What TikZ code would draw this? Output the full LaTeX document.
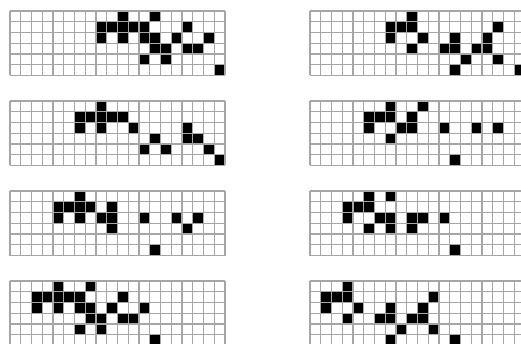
\documentclass[tikz,border=0pt]{standalone}
\definecolor{gridgray}{HTML}{A6A6A6}
\tikzset{
  cellfill/.style={fill=black},
  gridline/.style={draw=gridgray,line width=1.4pt},
}
\newcommand\cagrid[3]{%
  \begin{scope}[shift={(#1,#2)}]
    \foreach \c/\r in {#3} \fill[cellfill] ({\c*10.75},{-\r*10.75}) rectangle ++(10.75,-10.75);
    \foreach \i in {0,...,20} \draw[gridline] ({\i*10.75},0) -- ({\i*10.75},-64.5);
    \foreach \j in {0,...,6} \draw[gridline] (0,{-\j*10.75}) -- (215,{-\j*10.75});
  \end{scope}}
\begin{document}
\begin{tikzpicture}[x=1pt,y=1pt]
\useasboundingbox (0,0) rectangle (521,-344);
\clip (0,0) rectangle (521,-344);
\fill[white] (0,0) rectangle (521,-344);
% row 1
\cagrid{10}{-11}{10/0,13/0,8/1,9/1,10/1,11/1,12/1,16/1,8/2,10/2,12/2,13/2,15/2,18/2,13/3,14/3,16/3,17/3,12/4,14/4,19/5}
\cagrid{310}{-11}{9/0,7/1,8/1,9/1,17/1,7/2,10/2,13/2,16/2,9/3,12/3,13/3,15/3,16/3,14/4,17/4,13/5,19/5}
% row 2
\cagrid{10}{-101}{8/0,6/1,7/1,8/1,9/1,10/1,6/2,8/2,11/2,16/2,13/3,16/3,17/3,12/4,14/4,18/4,19/5}
\cagrid{310}{-101}{7/0,10/0,5/1,6/1,7/1,9/1,5/2,8/2,9/2,12/2,15/2,17/2,7/3,13/5}
% row 3
\cagrid{10}{-191}{6/0,4/1,5/1,6/1,7/1,9/1,4/2,6/2,8/2,9/2,12/2,15/2,17/2,9/3,16/3,13/5}
\cagrid{310}{-191}{5/0,7/0,3/1,4/1,5/1,3/2,6/2,7/2,9/2,10/2,12/2,5/3,7/3,9/3,13/5}
% row 4
\cagrid{10}{-281}{4/0,7/0,2/1,3/1,4/1,5/1,6/1,10/1,2/2,4/2,6/2,7/2,9/2,12/2,7/3,8/3,10/3,11/3,6/4,8/4,13/5}
\cagrid{310}{-281}{3/0,1/1,2/1,3/1,11/1,1/2,4/2,7/2,10/2,3/3,6/3,7/3,9/3,10/3,8/4,11/4,7/5,13/5}
\end{tikzpicture}
\end{document}
